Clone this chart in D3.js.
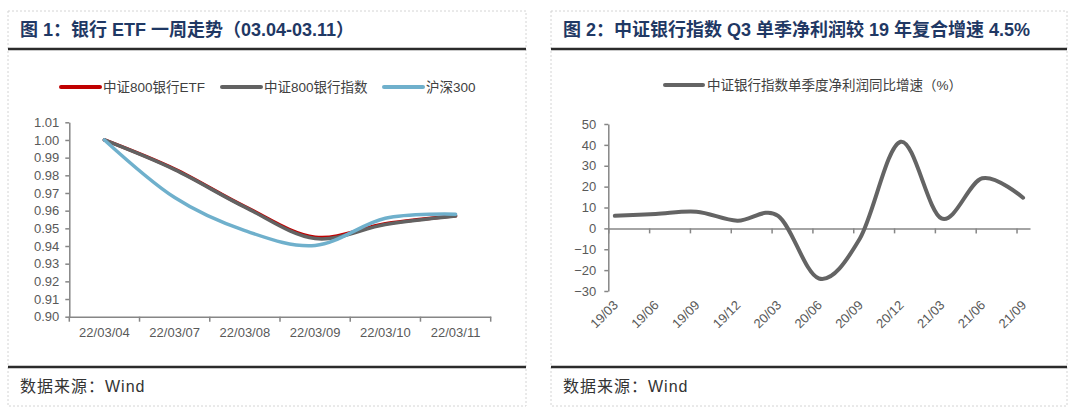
<!DOCTYPE html>
<html>
<head>
<meta charset="utf-8">
<script src="https://cdn.jsdelivr.net/npm/d3@7"></script>
<style>
  body { margin: 0; background: #fff; }
  svg { display: block; font-family: "Liberation Sans", "Noto Sans CJK SC", sans-serif; }
</style>
</head>
<body>
<svg width="1080" height="415"></svg>
<script>
// chart 1: bank ETF week
const dates1 = ["22/03/04", "22/03/07", "22/03/08", "22/03/09", "22/03/10", "22/03/11"];
const etf = [1.000, 0.9835, 0.9623, 0.9450, 0.9526, 0.9571];
const bankIndex = [1.000, 0.9832, 0.9620, 0.9442, 0.9522, 0.9570];
const hs300 = [1.000, 0.9674, 0.9487, 0.9403, 0.9557, 0.9580];
const yTicks1 = [0.90, 0.91, 0.92, 0.93, 0.94, 0.95, 0.96, 0.97, 0.98, 0.99, 1.00, 1.01];
const names1 = ["中证800银行ETF", "中证800银行指数", "沪深300"];

// chart 2: quarterly net profit growth
const quarters = ["19/03", "19/06", "19/09", "19/12", "20/03", "20/06", "20/09", "20/12", "21/03", "21/06", "21/09"];
const profitYoY = [6.0, 6.9, 8.0, 3.7, 6.0, -24.0, -5.0, 41.5, 4.8, 24.0, 14.7];
const yTicks2 = [-30, -20, -10, 0, 10, 20, 30, 40, 50];
const name2 = "中证银行指数单季度净利润同比增速（%）";

const titles = ["图 1：银行 ETF 一周走势（03.04-03.11）", "图 2：中证银行指数 Q3 单季净利润较 19 年复合增速 4.5%"];

const svg = d3.select("svg");
const axisColor = "#868686";
const labelColor = "#404040";

// panels
const panels = [{ x: 8, w: 518 }, { x: 551, w: 516 }];
panels.forEach((p, i) => {
    svg.append("rect")
        .attr("x", p.x).attr("y", 11).attr("width", p.w).attr("height", 395)
        .attr("fill", "none").attr("stroke", "#d4d4d4").attr("stroke-dasharray", "2,2");
    svg.append("line").attr("x1", p.x).attr("x2", p.x + p.w).attr("y1", 49).attr("y2", 49)
        .attr("stroke", "#2b2b2b").attr("stroke-width", 2.5);
    svg.append("line").attr("x1", p.x).attr("x2", p.x + p.w).attr("y1", 367).attr("y2", 367)
        .attr("stroke", "#2b2b2b").attr("stroke-width", 2.5);
    svg.append("text").attr("x", p.x + 12).attr("y", 36)
        .attr("font-size", 18).attr("font-weight", "bold").attr("fill", "#1f3864")
        .text(titles[i]);
    svg.append("text").attr("x", p.x + 12).attr("y", 392)
        .attr("font-size", 16).attr("letter-spacing", 1).attr("fill", "#333")
        .text("数据来源：Wind");
});

function styleAxis(g) {
    g.select(".domain").attr("stroke", axisColor).attr("stroke-width", 1.5);
    g.selectAll(".tick line").attr("stroke", axisColor).attr("stroke-width", 1.5);
    g.selectAll(".tick text").attr("fill", "#595959").attr("font-size", 13)
        .attr("font-family", "Liberation Sans, sans-serif");
}

// ---------- chart 1 ----------
const x1 = d3.scaleBand().domain(dates1).range([69.3, 490.7]).padding(0);
const y1 = d3.scaleLinear().domain([0.90, 1.01]).range([316.7, 122.3]);

const gy1 = svg.append("g").attr("transform", `translate(${x1.range()[0]},0)`)
    .call(d3.axisLeft(y1).tickValues(yTicks1).tickFormat(d3.format(".2f")).tickSize(4).tickSizeOuter(0).tickPadding(6));
styleAxis(gy1);

const gx1 = svg.append("g").attr("transform", `translate(0,${y1(0.90)})`)
    .call(d3.axisBottom(x1).tickSize(0).tickSizeOuter(0).tickPadding(11));
styleAxis(gx1);
// tick marks between the categories
gx1.selectAll(".sep").data(dates1.concat(["end"])).enter().append("line")
    .attr("x1", (d, i) => i < dates1.length ? x1(d) : x1.range()[1])
    .attr("x2", (d, i) => i < dates1.length ? x1(d) : x1.range()[1])
    .attr("y1", 0).attr("y2", 5).attr("stroke", axisColor).attr("stroke-width", 1.5);

const line1 = d3.line()
    .x((d, i) => x1(dates1[i]) + x1.bandwidth() / 2)
    .y(d => y1(d))
    .curve(d3.curveCatmullRom.alpha(0));

const series1 = [
    { values: etf, color: "#c00000" },
    { values: bankIndex, color: "#626262" },
    { values: hs300, color: "#6fb0cc" }
];
series1.forEach(s => {
    svg.append("path").datum(s.values)
        .attr("fill", "none").attr("stroke", s.color).attr("stroke-width", 3.5)
        .attr("stroke-linecap", "round").attr("d", line1);
});

// legend 1
const leg1 = [{ x: 61 }, { x: 222 }, { x: 384 }];
leg1.forEach((l, i) => {
    svg.append("line").attr("x1", l.x).attr("x2", l.x + 39).attr("y1", 87).attr("y2", 87)
        .attr("stroke", series1[i].color).attr("stroke-width", 4).attr("stroke-linecap", "round");
    svg.append("text").attr("x", l.x + 42).attr("y", 87).attr("dy", "0.36em")
        .attr("font-size", 13.5).attr("fill", labelColor).text(names1[i]);
});

// ---------- chart 2 ----------
const x2 = d3.scaleLinear().domain([0, 10.33]).range([608.3, 1030]);
const y2 = d3.scaleLinear().domain([-30, 50]).range([291, 124]);
const ptOffset = 0.16;

const gy2 = svg.append("g").attr("transform", `translate(${x2(0)},0)`)
    .call(d3.axisLeft(y2).tickValues(yTicks2).tickSize(4).tickSizeOuter(0).tickPadding(8));
styleAxis(gy2);

const gx2 = svg.append("g").attr("transform", `translate(0,${y2(0)})`)
    .call(d3.axisBottom(x2).tickValues(d3.range(quarters.length)).tickSize(5).tickSizeOuter(0).tickFormat(""));
styleAxis(gx2);

svg.append("g").selectAll("text").data(quarters).enter().append("text")
    .attr("transform", (d, i) => `translate(${x2(i + ptOffset) + 4},${y2(-30) + 15}) rotate(-45)`)
    .attr("text-anchor", "end")
    .attr("font-size", 13).attr("fill", "#595959")
    .text(d => d);

const line2 = d3.line()
    .x((d, i) => x2(i + ptOffset))
    .y(d => y2(d))
    .curve(d3.curveCatmullRom.alpha(0));

svg.append("path").datum(profitYoY)
    .attr("fill", "none").attr("stroke", "#646464").attr("stroke-width", 4)
    .attr("stroke-linecap", "round").attr("d", line2);

// legend 2
svg.append("line").attr("x1", 665).attr("x2", 703).attr("y1", 85).attr("y2", 85)
    .attr("stroke", "#646464").attr("stroke-width", 4).attr("stroke-linecap", "round");
svg.append("text").attr("x", 707).attr("y", 85).attr("dy", "0.36em")
    .attr("font-size", 13.5).attr("fill", labelColor).text(name2);
</script>
</body>
</html>
